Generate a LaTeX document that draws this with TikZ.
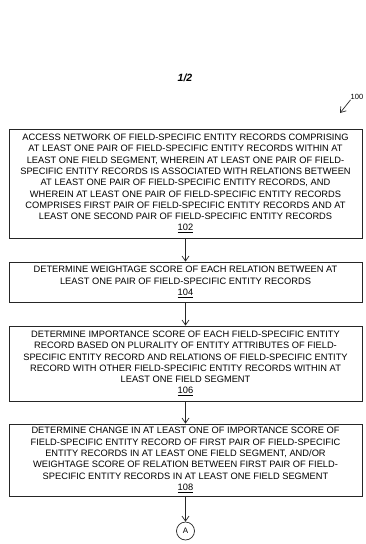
\documentclass[tikz,border=0pt]{standalone}
\usepackage{fontspec}
\setmainfont{Liberation Sans}
\usetikzlibrary{arrows.meta}

\begin{document}
\begin{tikzpicture}[x=1pt,y=-1pt,
            step box/.style={draw=black!85, line width=0.8pt, minimum width=353pt, inner sep=0pt, align=center, font=\fontsize{9.3}{11.3}\selectfont},
            flow/.style={draw=black!85, line width=0.7pt, -{Straight Barb[length=5pt,width=7pt]}},
            connector/.style={circle, draw=black!85, line width=0.7pt, minimum size=18pt, inner sep=0pt, font=\fontsize{8}{9}\selectfont},
            ]
            \useasboundingbox (0,0) rectangle (365,544);

            \node[font=\bfseries\itshape\fontsize{10.5}{12}\selectfont] (page) at (185,78) {1/2};
            \node[font=\fontsize{7.5}{9}\selectfont, inner sep=0pt] (ref) at (357,97) {100};
            \coordinate (refend) at (340,113);

            \node[step box, minimum height=109pt] (102) at (185.5,183.5) {ACCESS NETWORK OF FIELD-SPECIFIC ENTITY RECORDS COMPRISING\\AT LEAST ONE PAIR OF FIELD-SPECIFIC ENTITY RECORDS WITHIN AT\\LEAST ONE FIELD SEGMENT, WHEREIN AT LEAST ONE PAIR OF FIELD-\\SPECIFIC ENTITY RECORDS IS ASSOCIATED WITH RELATIONS BETWEEN\\AT LEAST ONE PAIR OF FIELD-SPECIFIC ENTITY RECORDS, AND\\WHEREIN AT LEAST ONE PAIR OF FIELD-SPECIFIC ENTITY RECORDS\\COMPRISES FIRST PAIR OF FIELD-SPECIFIC ENTITY RECORDS AND AT\\LEAST ONE SECOND PAIR OF FIELD-SPECIFIC ENTITY RECORDS\\\underline{102}};
            \node[step box, minimum height=40pt] (104) at (185.5,282) {DETERMINE WEIGHTAGE SCORE OF EACH RELATION BETWEEN AT\\LEAST ONE PAIR OF FIELD-SPECIFIC ENTITY RECORDS\\\underline{104}};
            \node[step box, minimum height=75pt] (106) at (185.5,363.5) {DETERMINE IMPORTANCE SCORE OF EACH FIELD-SPECIFIC ENTITY\\RECORD BASED ON PLURALITY OF ENTITY ATTRIBUTES OF FIELD-\\SPECIFIC ENTITY RECORD AND RELATIONS OF FIELD-SPECIFIC ENTITY\\RECORD WITH OTHER FIELD-SPECIFIC ENTITY RECORDS WITHIN AT\\LEAST ONE FIELD SEGMENT\\\underline{106}};
            \node[step box, minimum height=72pt] (108) at (185.5,460) {DETERMINE CHANGE IN AT LEAST ONE OF IMPORTANCE SCORE OF\\FIELD-SPECIFIC ENTITY RECORD OF FIRST PAIR OF FIELD-SPECIFIC\\ENTITY RECORDS IN AT LEAST ONE FIELD SEGMENT, AND/OR\\WEIGHTAGE SCORE OF RELATION BETWEEN FIRST PAIR OF FIELD-\\SPECIFIC ENTITY RECORDS IN AT LEAST ONE FIELD SEGMENT\\\underline{108}};
            \node[connector] (A) at (185.5,531) {A};

            \draw[flow] (ref.south west) -- (refend);
            \draw[flow] (102) -- (104);
            \draw[flow] (104) -- (106);
            \draw[flow] (106) -- (108);
            \draw[flow] (108) -- (A);
        \end{tikzpicture}
\end{document}
